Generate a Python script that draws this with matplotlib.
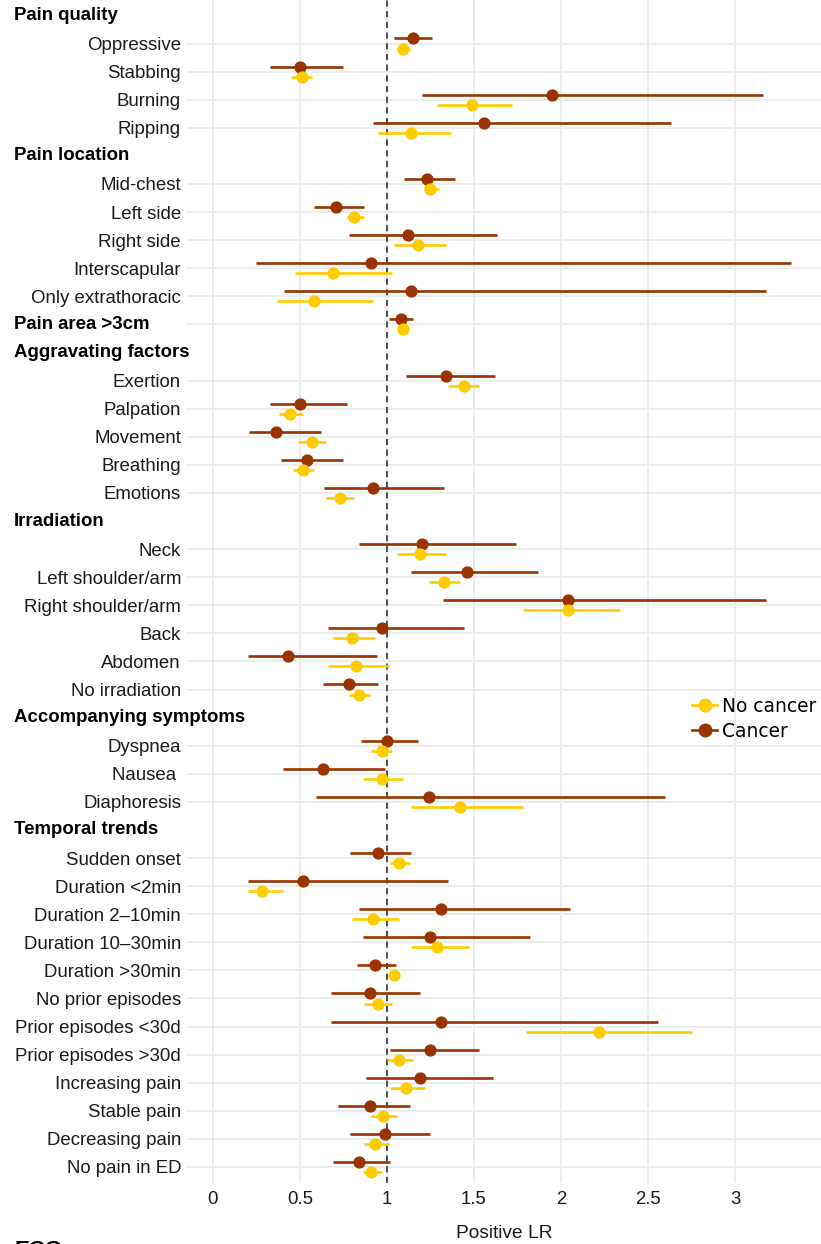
import numpy as np
import matplotlib
matplotlib.use("Agg")
import matplotlib.pyplot as plt
from matplotlib.lines import Line2D
from matplotlib.transforms import blended_transform_factory

plt.rcParams['font.family'] = ['Liberation Sans', 'DejaVu Sans']

nan = np.nan

categories = [
    "Pain quality", "Oppressive", "Stabbing", "Burning", "Ripping",
    "Pain location", "Mid-chest", "Left side", "Right side", "Interscapular",
    "Only extrathoracic", "Pain area >3cm",
    "Aggravating factors", "Exertion", "Palpation", "Movement", "Breathing", "Emotions",
    "Irradiation", "Neck", "Left shoulder/arm", "Right shoulder/arm", "Back", "Abdomen",
    "No irradiation",
    "Accompanying symptoms", "Dyspnea", "Nausea ", "Diaphoresis",
    "Temporal trends", "Sudden onset", "Duration <2min", "Duration 2\u201310min",
    "Duration 10\u201330min", "Duration >30min", "No prior episodes",
    "Prior episodes <30d", "Prior episodes >30d", "Increasing pain", "Stable pain",
    "Decreasing pain", "No pain in ED",
]

header_rows = ["Pain quality", "Pain location", "Pain area >3cm", "Aggravating factors",
               "Irradiation", "Accompanying symptoms", "Temporal trends"]

cancer_lr = [nan, 1.15, 0.50, 1.95, 1.56,
             nan, 1.23, 0.71, 1.12, 0.91, 1.14, 1.08,
             nan, 1.34, 0.50, 0.36, 0.54, 0.92,
             nan, 1.20, 1.46, 2.04, 0.97, 0.43, 0.78,
             nan, 1.00, 0.63, 1.24,
             nan, 0.95, 0.52, 1.31, 1.25, 0.93, 0.90, 1.31, 1.25, 1.19, 0.90, 0.99, 0.84]
cancer_lo = [nan, 1.04, 0.33, 1.20, 0.92,
             nan, 1.10, 0.58, 0.78, 0.25, 0.41, 1.01,
             nan, 1.11, 0.33, 0.21, 0.39, 0.64,
             nan, 0.84, 1.14, 1.32, 0.66, 0.20, 0.63,
             nan, 0.85, 0.40, 0.59,
             nan, 0.79, 0.20, 0.84, 0.86, 0.83, 0.68, 0.68, 1.02, 0.88, 0.72, 0.79, 0.69]
cancer_hi = [nan, 1.26, 0.75, 3.16, 2.63,
             nan, 1.39, 0.87, 1.63, 3.32, 3.18, 1.15,
             nan, 1.62, 0.77, 0.62, 0.75, 1.33,
             nan, 1.74, 1.87, 3.18, 1.44, 0.94, 0.95,
             nan, 1.18, 0.99, 2.60,
             nan, 1.14, 1.35, 2.05, 1.82, 1.05, 1.19, 2.56, 1.53, 1.61, 1.13, 1.25, 1.02]

nocancer_lr = [nan, 1.09, 0.51, 1.49, 1.14,
               nan, 1.25, 0.81, 1.18, 0.69, 0.58, 1.09,
               nan, 1.44, 0.44, 0.57, 0.52, 0.73,
               nan, 1.19, 1.33, 2.04, 0.80, 0.82, 0.84,
               nan, 0.97, 0.97, 1.42,
               nan, 1.07, 0.28, 0.92, 1.29, 1.04, 0.95, 2.22, 1.07, 1.11, 0.98, 0.93, 0.91]
nocancer_lo = [nan, 1.06, 0.45, 1.29, 0.95,
               nan, 1.21, 0.77, 1.04, 0.47, 0.37, 1.08,
               nan, 1.35, 0.38, 0.49, 0.46, 0.65,
               nan, 1.06, 1.24, 1.78, 0.69, 0.66, 0.78,
               nan, 0.91, 0.86, 1.14,
               nan, 1.02, 0.20, 0.80, 1.14, 1.01, 0.87, 1.80, 1.00, 1.02, 0.91, 0.87, 0.86]
nocancer_hi = [nan, 1.13, 0.57, 1.72, 1.37,
               nan, 1.30, 0.87, 1.34, 1.03, 0.92, 1.10,
               nan, 1.53, 0.52, 0.65, 0.58, 0.81,
               nan, 1.34, 1.42, 2.34, 0.93, 1.01, 0.90,
               nan, 1.03, 1.09, 1.78,
               nan, 1.13, 0.40, 1.07, 1.47, 1.07, 1.03, 2.75, 1.15, 1.22, 1.06, 1.01, 0.97]

x_ticks = [0, 0.5, 1, 1.5, 2, 2.5, 3]
x_tick_labels = ["0", "0.5", "1", "1.5", "2", "2.5", "3"]

COL_CANCER = "#993300"
COL_NOCANCER = "#FFCC00"
GRID = "#EBEBEB"

W, H = 821, 1244
fig = plt.figure(figsize=(W / 100, H / 100), dpi=100)
ax = fig.add_axes([187 / W, 1 - 1183 / H, (821 - 187) / W, 1183 / H])

n = len(categories)
ypos = np.arange(n)
ax.set_xlim(-0.149, 3.494)
ax.set_ylim(n - 1 + 0.57, -0.55)

# grid
for xv in x_ticks:
    ax.axvline(xv, color=GRID, lw=1.3, zorder=0)
data_rows = [i for i, c in enumerate(categories) if not np.isnan(cancer_lr[i])]
for i in data_rows:
    ax.axhline(ypos[i], color=GRID, lw=1.3, zorder=0)

ax.axvline(1, color="#222222", lw=1.1, ls=(0, (4, 3)), zorder=1)

off = 0.18

def draw(lr, lo, hi, col, dy, z):
    lr = np.array(lr); lo = np.array(lo); hi = np.array(hi)
    ax.hlines(ypos + dy, lo, hi, color=col, lw=1.9, zorder=z)
    ax.plot(lr, ypos + dy, 'o', color=col, ms=7.8, zorder=z + 0.5, mec=col)

draw(cancer_lr, cancer_lo, cancer_hi, COL_CANCER, -off, 2)
draw(nocancer_lr, nocancer_lo, nocancer_hi, COL_NOCANCER, off, 2)

ax.set_xticks(x_ticks)
ax.set_xticklabels(x_tick_labels)
tick_rows = [i for i in data_rows]
ax.set_yticks([ypos[i] for i in tick_rows])
ax.set_yticklabels(["" if categories[i] in header_rows else categories[i] for i in tick_rows])
ax.tick_params(axis='both', length=0, labelsize=13.4, colors="#1a1a1a")
ax.tick_params(axis='y', pad=4.3)
ax.tick_params(axis='x', pad=5.5)
for s in ax.spines.values():
    s.set_visible(False)

trans = blended_transform_factory(fig.transFigure, ax.transData)
for i, c in enumerate(categories):
    if c in header_rows:
        ax.text(14 / W, ypos[i], c, transform=trans, ha='left', va='center',
                fontsize=13.4, fontweight='bold', color='black', clip_on=False, zorder=5)

fig.text(504 / W, 1 - 1234 / H, "Positive LR", ha='center', va='center',
         fontsize=13.8, color='#1a1a1a')

fig.text(14 / W, 1 - 1250 / H, "ECG", ha='left', va='center',
         fontsize=16, fontweight='bold', color='black')

handles = [
    Line2D([0], [0], color=COL_NOCANCER, lw=1.9, marker='o', ms=9, mec=COL_NOCANCER),
    Line2D([0], [0], color=COL_CANCER, lw=1.9, marker='o', ms=9, mec=COL_CANCER),
]
leg = fig.legend(handles, ["No cancer", "Cancer"], loc='upper left',
                 bbox_to_anchor=(692 / W, 1 - 697 / H), frameon=False,
                 prop={'family': 'DejaVu Sans', 'size': 13.4},
                 handlelength=1.35, handletextpad=0.25, labelspacing=0.3,
                 borderpad=0, borderaxespad=0)

fig.savefig("out.png", dpi=100)
